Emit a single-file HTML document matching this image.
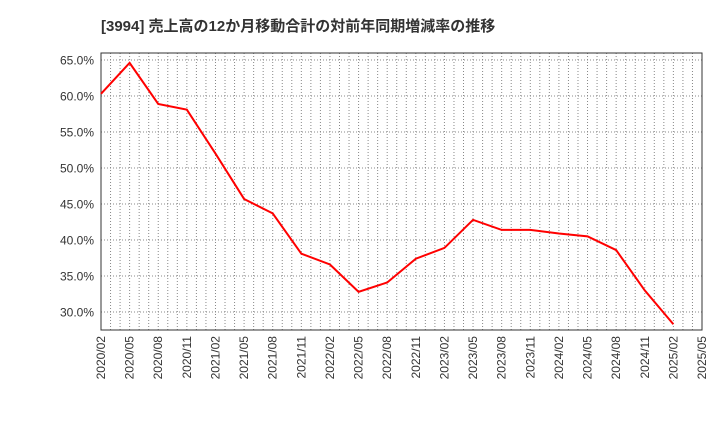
<!DOCTYPE html>
<html><head><meta charset="utf-8"><style>
body{margin:0;background:#fff;width:720px;height:440px;overflow:hidden;font-family:"Liberation Sans","Noto Sans CJK JP",sans-serif}
</style></head><body>
<svg id="c" width="720" height="440" xmlns="http://www.w3.org/2000/svg">
<text x="101" y="31" font-size="15" font-weight="bold" fill="#333" font-family="Liberation Sans,Noto Sans CJK JP,sans-serif">[3994]  売上高の12か月移動合計の対前年同期増減率の推移</text>
</svg>
<script>
const xLabels=["2020/02","2020/05","2020/08","2020/11","2021/02","2021/05","2021/08","2021/11","2022/02","2022/05","2022/08","2022/11","2023/02","2023/05","2023/08","2023/11","2024/02","2024/05","2024/08","2024/11","2025/02","2025/05"];
const values=[60.3,64.6,58.9,58.1,52.0,45.7,43.7,38.1,36.6,32.8,34.1,37.4,38.9,42.8,41.4,41.4,40.9,40.5,38.6,33.0,28.3];
const yTicks=[30,35,40,45,50,55,60,65];
const L=101,R=702,T=53,B=330;
const NS="http://www.w3.org/2000/svg";
const svg=document.getElementById('c');
const qw=(R-L)/(xLabels.length-1);
const xq=i=>L+i*qw;
const y=v=>60+(65-v)*36/5;
function el(t,a,p){const e=document.createElementNS(NS,t);for(const k in a)e.setAttribute(k,a[k]);(p||svg).appendChild(e);return e;}
// monthly vertical grid
for(let m=1;m<(xLabels.length-1)*3;m++){
 const g=el('line',{x1:L+m*qw/3,x2:L+m*qw/3,y1:T,y2:B,stroke:'#888','stroke-width':1,'stroke-dasharray':'1,2'});
 
 
}
yTicks.forEach(v=>{
 const g=el('line',{x1:L,x2:R,y1:y(v),y2:y(v),stroke:'#888','stroke-width':1,'stroke-dasharray':'1,2'});
 
 
 const t=el('text',{x:L-7,y:y(v)+4.5,'text-anchor':'end','font-size':12,fill:'#333'});
 t.textContent=v.toFixed(1)+'%';
 
 
});
xLabels.forEach((s,i)=>{
 const t=el('text',{x:0,y:0,'text-anchor':'end','font-size':12,fill:'#333',transform:`translate(${xq(i)+4},${B+6}) rotate(-90)`});
 t.textContent=s;
 
 
});
const f=el('rect',{x:L,y:T,width:R-L,height:B-T,fill:'none',stroke:'#333','stroke-width':1});


const p=el('polyline',{points:values.map((v,i)=>xq(i)+','+y(v)).join(' '),fill:'none',stroke:'#f00','stroke-width':2});


</script>
</body></html>
